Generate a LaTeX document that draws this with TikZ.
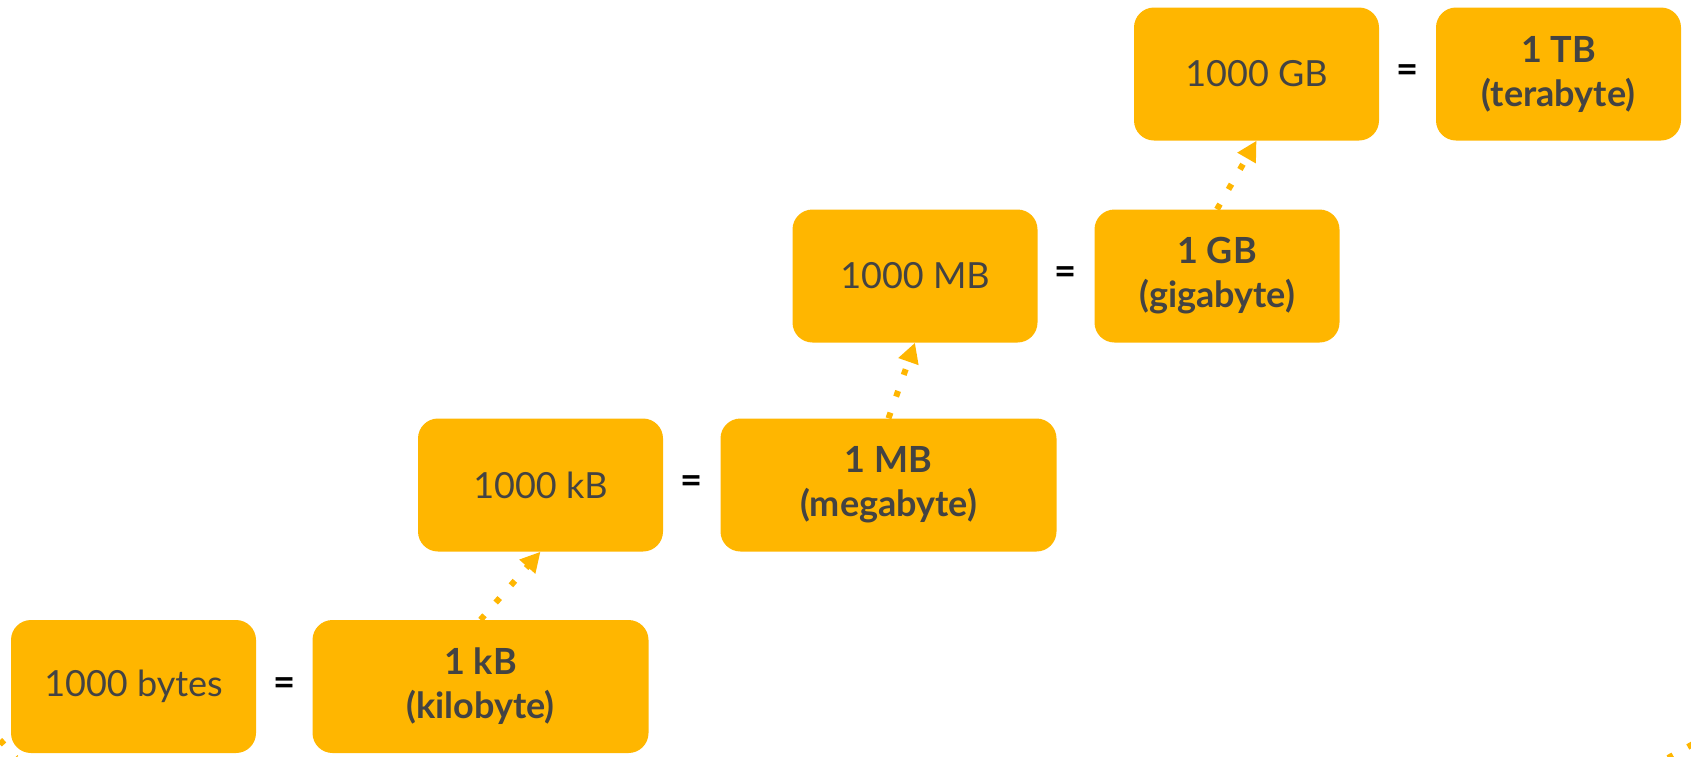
\documentclass[tikz,border=0pt]{standalone}
\usepackage{fontspec}
\setmainfont{Lato}
\usetikzlibrary{arrows.meta,calc}
\definecolor{boxc}{HTML}{FFB600}
\definecolor{textc}{HTML}{434343}
\tikzset{
  box/.style={rectangle, rounded corners=20pt, fill=boxc, text=textc, align=center,
    minimum height=133pt, inner sep=0pt, font=\fontsize{36}{44}\selectfont},
  narrow/.style={box, minimum width=245pt},
  wide/.style={box, minimum width=336pt},
  eqsign/.style={text=black, font=\fontsize{38}{40}\selectfont\bfseries},
  dotline/.style={draw=boxc, line width=6pt, dash pattern=on 6pt off 17pt},
  uparrow/.style={dotline, -{Triangle[length=20pt,width=20pt]}}
}
\begin{document}
\begin{tikzpicture}[x=1pt,y=-1pt]
\useasboundingbox (0,0) rectangle (1691,756);
\node[narrow] (b1) at (133.5,686.5) {1000 bytes};
\node[wide]   (b2) at (480.5,686.5) {\textbf{1 kB}\\\textbf{(kilobyte)}};
\node[narrow] (b3) at (540.5,485) {1000 kB};
\node[wide]   (b4) at (888.5,485) {\textbf{1 MB}\\\textbf{(megabyte)}};
\node[narrow] (b5) at (915,276) {1000 MB};
\node[narrow] (b6) at (1217,276) {\textbf{1 GB}\\\textbf{(gigabyte)}};
\node[narrow] (b7) at (1256.5,74) {1000 GB};
\node[narrow] (b8) at (1558.5,74) {\textbf{1 TB}\\\textbf{(terabyte)}};
\node[eqsign] (e1) at ($(b1.east)!0.5!(b2.west)$) {=};
\node[eqsign] (e2) at ($(b3.east)!0.5!(b4.west)$) {=};
\node[eqsign] (e3) at ($(b5.east)!0.5!(b6.west)$) {=};
\node[eqsign] (e4) at ($(b7.east)!0.5!(b8.west)$) {=};
\draw[uparrow] (b2.north) -- (b3.south);
\draw[uparrow] (b4.north) -- (b5.south);
\draw[uparrow] (b6.north) -- (b7.south);
\coordinate (bla) at (0,740);
\coordinate (blb) at (16,758);
\coordinate (bra) at (1693,744);
\coordinate (brb) at (1668,758);
\draw[dotline] (bla) -- (blb);
\draw[dotline] (bra) -- (brb);
\end{tikzpicture}
\end{document}
